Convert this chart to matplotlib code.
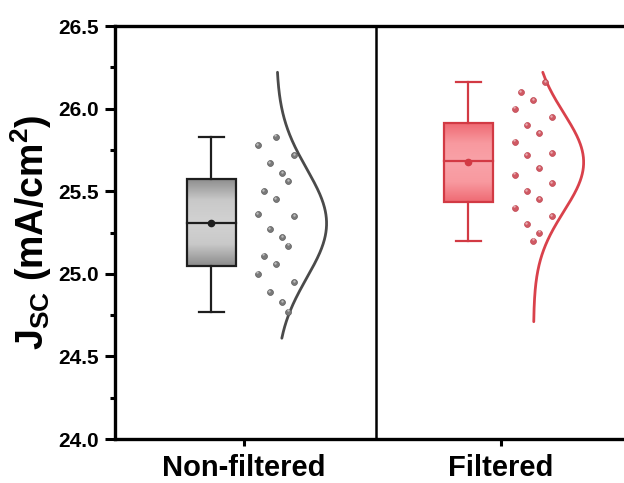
import numpy as np
import matplotlib
matplotlib.use("Agg")
import matplotlib.pyplot as plt
from matplotlib.patches import Rectangle
from matplotlib.colors import LinearSegmentedColormap

plt.rcParams['font.family'] = ['Liberation Sans', 'DejaVu Sans']
plt.rcParams['font.weight'] = 'bold'
plt.rcParams['mathtext.fontset'] = 'custom'
plt.rcParams['mathtext.rm'] = 'Liberation Sans:bold'
plt.rcParams['mathtext.bf'] = 'Liberation Sans:bold'
plt.rcParams['mathtext.it'] = 'Liberation Sans:bold'
plt.rcParams['mathtext.default'] = 'bf'

# ---- data ----
categories = ["Non-filtered", "Filtered"]
nonfiltered = [25.83, 25.78, 25.72, 25.67, 25.61, 25.56, 25.50, 25.45, 25.36, 25.35,
               25.27, 25.22, 25.17, 25.11, 25.06, 25.00, 24.95, 24.89, 24.83, 24.77]
filtered = [26.16, 26.10, 26.05, 26.00, 25.95, 25.90, 25.85, 25.80, 25.73, 25.72,
            25.64, 25.60, 25.55, 25.50, 25.45, 25.40, 25.35, 25.30, 25.25, 25.20]
series = [nonfiltered, filtered]
yticks = [24.0, 24.5, 25.0, 25.5, 26.0, 26.5]

# ---- layout / style ----
jitter_idx = [[3, 0, 6, 2, 4, 5, 1] * 2 + [3, 0, 6, 2, 4, 5],
              [5, 1, 3, 0, 6, 2, 4, 0, 6, 2, 4, 0, 6, 2, 4, 0, 6, 2, 4, 3]]
curve_ranges = [(24.61, 26.22), (24.71, 26.22)]
box_off, box_w = -0.125, 0.192
cap_w = 0.10
pt_off, pt_step = 0.056, 0.0237
curve_base, curve_amp = 0.128, 0.195

edge_colors = ['#1e1e1e', '#d23a44']
curve_colors = ['#4a4a4a', '#d9414b']
pt_colors = ['#7a7a7a', '#d05a64']
pt_edge = ['#5a5a5a', '#c04550']
grad_maps = [LinearSegmentedColormap.from_list('g', ['#8c8c8c', '#c9c9c9', '#d2d2d2', '#c9c9c9', '#8c8c8c']),
             LinearSegmentedColormap.from_list('r', ['#ef6a73', '#f8999f', '#f9a2a8', '#f8999f', '#ef6a73'])]

fig = plt.figure(figsize=(6.24, 4.83), dpi=100)
ax = fig.add_axes([115/624, 1-439/483, 509/624, (439-26)/483])

grad = np.linspace(0, 1, 200).reshape(-1, 1)
for i, vals in enumerate(series):
    x = i + 1
    v = np.array(vals)
    q1, med, q3 = np.percentile(v, [25, 50, 75])
    lo, hi = v.min(), v.max()
    mean = v.mean()
    bx = x + box_off
    # gradient fill box
    rect = Rectangle((bx - box_w/2, q1), box_w, q3 - q1, facecolor='none',
                     edgecolor=edge_colors[i], lw=1.6, zorder=4)
    ax.add_patch(rect)
    im = ax.imshow(grad, cmap=grad_maps[i], aspect='auto',
                   extent=[bx - box_w/2, bx + box_w/2, q1, q3], zorder=3,
                   interpolation='bicubic')
    im.set_clip_path(rect)
    ax.plot([bx - box_w/2, bx + box_w/2], [med, med], color=edge_colors[i], lw=1.6, zorder=5)
    ax.plot([bx, bx], [q3, hi], color=edge_colors[i], lw=1.6, zorder=4)
    ax.plot([bx, bx], [lo, q1], color=edge_colors[i], lw=1.6, zorder=4)
    ax.plot([bx - cap_w/2, bx + cap_w/2], [hi, hi], color=edge_colors[i], lw=1.6, zorder=4)
    ax.plot([bx - cap_w/2, bx + cap_w/2], [lo, lo], color=edge_colors[i], lw=1.6, zorder=4)
    ax.plot([bx], [mean], 'o', color=edge_colors[i], ms=4.5, zorder=6)
    # points
    px = x + pt_off + pt_step * np.array(jitter_idx[i])
    ax.scatter(px, v, s=18, color=pt_colors[i], edgecolors=pt_edge[i], linewidths=0.5, zorder=5)
    ax.scatter(px - 0.003, v + 0.008, s=3, color='white', alpha=0.5, linewidths=0, zorder=6)
    # normal curve
    sd = v.std(ddof=1)
    yy = np.linspace(curve_ranges[i][0], curve_ranges[i][1], 300)
    xx = x + curve_base + curve_amp * np.exp(-0.5 * ((yy - mean) / sd) ** 2)
    ax.plot(xx, yy, color=curve_colors[i], lw=2.0, zorder=4, solid_capstyle='round')

ax.axvline(1.517, color='black', lw=1.8, zorder=2)

ax.set_xlim(0.5, 2.48)
ax.set_ylim(24.0, 26.5)
ax.set_xticks([1, 2])
ax.set_xticklabels(categories, fontsize=21, fontweight='bold')
ax.set_yticks(yticks)
ax.set_yticklabels([f"{t:.1f}" for t in yticks], fontsize=15, fontweight='bold')
ax.set_yticks(np.arange(24.25, 26.5, 0.5), minor=True)
ax.tick_params(axis='y', which='major', direction='out', length=7, width=2.2, pad=4.5)
ax.tick_params(axis='y', which='minor', direction='out', length=3.5, width=2.2)
ax.tick_params(axis='x', which='major', direction='out', length=5, width=2.2, pad=6)
for s in ['left', 'bottom', 'top']:
    ax.spines[s].set_linewidth(2.4)
ax.spines['right'].set_visible(False)
ax.set_ylabel(r'$J_{SC}$ (mA/cm$^{2}$)', fontsize=27, fontweight='bold', labelpad=3)

fig.savefig('out.png', dpi=100)
